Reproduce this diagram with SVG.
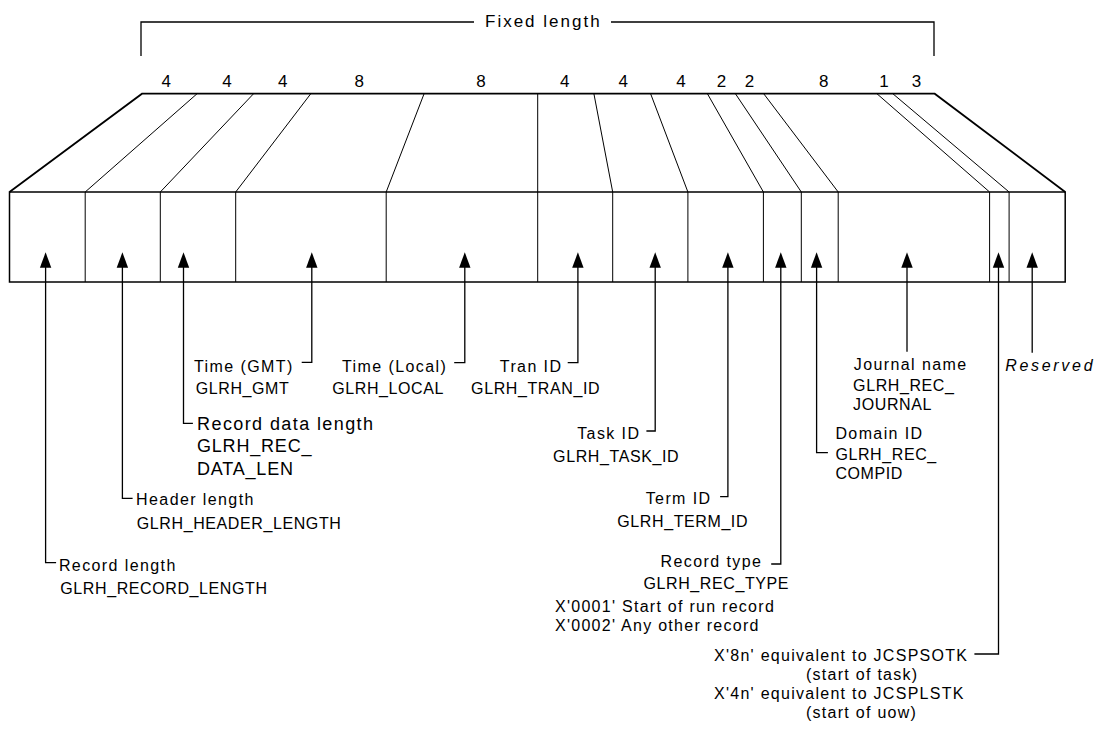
<svg xmlns="http://www.w3.org/2000/svg" xmlns:xlink="http://www.w3.org/1999/xlink" width="1096" height="736" viewBox="0 0 1096 736">
<style>
.t{font-family:"Liberation Sans",Arial,Helvetica,sans-serif;font-size:16px;letter-spacing:1.4px;fill:#000}
.id{letter-spacing:0.6px}
.big{font-size:18px;letter-spacing:1.4px}
.bigid{font-size:18px;letter-spacing:0.8px}
.num{font-size:17px;letter-spacing:0;text-anchor:middle}
.fx{font-size:17px;letter-spacing:2px}
.it{font-style:italic;letter-spacing:2.7px}
.ln{stroke:#000;fill:none;stroke-width:1.3}
.dv{stroke:#000;fill:none;stroke-width:1}
.ol{stroke:#000;fill:none;stroke-width:1.8}
.bx{stroke:#000;fill:none;stroke-width:1.5}
</style>
<defs>
<path id="ah" d="M0,0 L5.7,15.4 L-5.7,15.4 Z" fill="#000"/>
</defs>
<rect width="1096" height="736" fill="#fff"/>

<g id="fixed-length">
<path class="ln" d="M141,56 V22 H474 M611,22 H934 V56"/>
<text class="t fx" x="485" y="27">Fixed length</text>
</g>

<g id="record">
<path class="ol" d="M9.5,192 L142,93.7 L934.7,93.7 L1065.2,192"/>
<rect class="bx" x="9.5" y="192" width="1055.7" height="90"/>
<polyline class="dv" points="197.1,93.7 85.2,192 85.2,282"/>
<polyline class="dv" points="253.6,93.7 160.3,192 160.3,282"/>
<polyline class="dv" points="310.8,93.7 235.7,192 235.7,282"/>
<polyline class="dv" points="424.1,93.7 386.2,192 386.2,282"/>
<polyline class="dv" points="537.7,93.7 537.7,192 537.7,282"/>
<polyline class="dv" points="593.9,93.7 612.7,192 612.7,282"/>
<polyline class="dv" points="650.6,93.7 687.9,192 687.9,282"/>
<polyline class="dv" points="707.4,93.7 763.4,192 763.4,282"/>
<polyline class="dv" points="735.4,93.7 801.3,192 801.3,282"/>
<polyline class="dv" points="763.7,93.7 838.2,192 838.2,282"/>
<polyline class="dv" points="876.9,93.7 989.6,192 989.6,282"/>
<polyline class="dv" points="892.8,93.7 1009.1,192 1009.1,282"/>
<g class="t num">
<text x="166.3" y="87">4</text>
<text x="227" y="87">4</text>
<text x="282.7" y="87">4</text>
<text x="359.2" y="87">8</text>
<text x="480.9" y="87">8</text>
<text x="564.8" y="87">4</text>
<text x="623.3" y="87">4</text>
<text x="681.1" y="87">4</text>
<text x="721.6" y="87">2</text>
<text x="749.6" y="87">2</text>
<text x="823.7" y="87">8</text>
<text x="884" y="87">1</text>
<text x="916.6" y="87">3</text>
</g>
</g>

<g id="connectors">
<g class="ln">
<path d="M45.6,266 V562.7 H56.1"/>
<path d="M122.4,266 V498.3 H132.6"/>
<path d="M183.5,266 V423.3 H192.9"/>
<path d="M311.8,266 V362.3 H301.7"/>
<path d="M464.8,266 V362.7 H454.2"/>
<path d="M577.9,266 V362.7 H567.7"/>
<path d="M655.2,266 V431 H646.4"/>
<path d="M727.9,266 V496.7 H720.1"/>
<path d="M780.8,266 V564 H771.2"/>
<path d="M816.6,266 V452.7 H827.9"/>
<path d="M907,266 V351.7"/>
<path d="M998.5,266 V654 H974.4"/>
<path d="M1032.2,266 V352.7"/>
</g>
<use xlink:href="#ah" x="45.6" y="252.3"/>
<use xlink:href="#ah" x="122.4" y="252.3"/>
<use xlink:href="#ah" x="183.5" y="252.3"/>
<use xlink:href="#ah" x="311.8" y="252.3"/>
<use xlink:href="#ah" x="464.8" y="252.3"/>
<use xlink:href="#ah" x="577.9" y="252.3"/>
<use xlink:href="#ah" x="655.2" y="252.3"/>
<use xlink:href="#ah" x="727.9" y="252.3"/>
<use xlink:href="#ah" x="780.8" y="252.3"/>
<use xlink:href="#ah" x="816.6" y="252.3"/>
<use xlink:href="#ah" x="907" y="252.3"/>
<use xlink:href="#ah" x="998.5" y="252.3"/>
<use xlink:href="#ah" x="1032.2" y="252.3"/>
</g>

<g id="record-length" class="t">
<text x="58.9" y="571">Record length</text>
<text class="id" x="60.3" y="594.3">GLRH_RECORD_LENGTH</text>
</g>
<g id="header-length" class="t">
<text x="136.1" y="505.3">Header length</text>
<text class="id" x="136.8" y="528.7">GLRH_HEADER_LENGTH</text>
</g>
<g id="record-data-length" class="t">
<text class="big" x="197.1" y="430">Record data length</text>
<text class="bigid" x="197" y="452.3">GLRH_REC_</text>
<text class="bigid" x="197" y="474.7">DATA_LEN</text>
</g>
<g id="time-gmt" class="t">
<text x="194" y="372">Time (GMT)</text>
<text class="id" x="195.7" y="394">GLRH_GMT</text>
</g>
<g id="time-local" class="t">
<text x="342" y="372">Time (Local)</text>
<text class="id" x="332.2" y="394">GLRH_LOCAL</text>
</g>
<g id="tran-id" class="t">
<text x="499.8" y="372">Tran ID</text>
<text class="id" x="471.1" y="394">GLRH_TRAN_ID</text>
</g>
<g id="task-id" class="t">
<text x="577.2" y="439">Task ID</text>
<text class="id" x="553.1" y="462">GLRH_TASK_ID</text>
</g>
<g id="term-id" class="t">
<text x="645.7" y="503.7">Term ID</text>
<text class="id" x="617.3" y="526.7">GLRH_TERM_ID</text>
</g>
<g id="record-type" class="t">
<text x="660.6" y="567.3">Record type</text>
<text class="id" x="643.5" y="589">GLRH_REC_TYPE</text>
<text style="letter-spacing:1.27px" x="555" y="611.7">X'0001' Start of run record</text>
<text style="letter-spacing:1.27px" x="555" y="631">X'0002' Any other record</text>
</g>
<g id="domain-id" class="t">
<text x="835.4" y="439">Domain ID</text>
<text class="id" x="835.4" y="460">GLRH_REC_</text>
<text class="id" x="835.4" y="479.3">COMPID</text>
</g>
<g id="journal-name" class="t">
<text x="853.8" y="370">Journal name</text>
<text class="id" x="853.1" y="391">GLRH_REC_</text>
<text class="id" x="853.1" y="410">JOURNAL</text>
</g>
<g id="flags" class="t">
<text style="letter-spacing:1.27px" x="714" y="661">X'8n' equivalent to JCSPSOTK</text>
<text style="letter-spacing:1.27px" x="806" y="680">(start of task)</text>
<text style="letter-spacing:1.27px" x="714" y="699">X'4n' equivalent to JCSPLSTK</text>
<text style="letter-spacing:1.27px" x="806" y="718">(start of uow)</text>
</g>
<g id="reserved" class="t">
<text class="it" x="1005.2" y="371">Reserved</text>
</g>
</svg>
